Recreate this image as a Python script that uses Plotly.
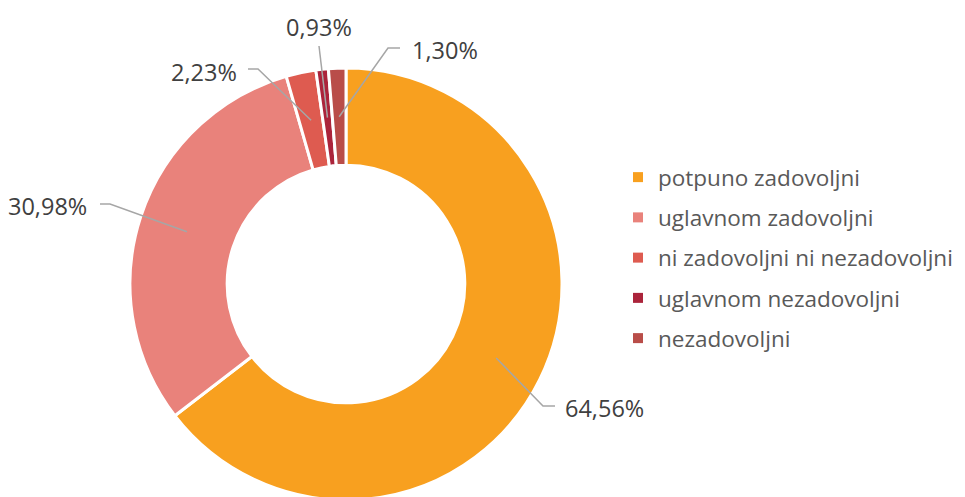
import math
import plotly.graph_objects as go

# ---- data ----
categories = ["potpuno zadovoljni", "uglavnom zadovoljni", "ni zadovoljni ni nezadovoljni",
              "uglavnom nezadovoljni", "nezadovoljni"]
values = [64.56, 30.98, 2.23, 0.93, 1.30]
colors = ["#F8A01F", "#E9827B", "#DE5B50", "#AB243B", "#B94D49"]
value_labels = [f"{v:.2f}".replace(".", ",") + "%" for v in values]

# ---- geometry / layout ----
W, H = 965, 503          # page is cut at 497 (pie slightly exceeds the bottom edge)
CX, CY, R = 346, 284, 216
HOLE = 0.55
FONT = "Open Sans, Noto Sans, sans-serif"

def px(x, y):
    return x / W, (H - y) / H

# label layout in pixel positions (elbow, end of leader, text anchor)
label_layout = [
    dict(elbow=(543, 406), end=(555, 406), text=(563, 408), anchor="left"),
    dict(elbow=(110, 204), end=(100, 204), text=(89, 206), anchor="right"),
    dict(elbow=(258, 69), end=(248, 69), text=(239, 72), anchor="right"),
    dict(elbow=None, end=(319, 46), text=(319, 27), anchor="center"),
    dict(elbow=(388, 48), end=(400, 48), text=(410, 50), anchor="left"),
]

fig = go.Figure()
fig.add_trace(go.Pie(
    labels=categories, values=values, sort=False, direction="clockwise", rotation=0,
    hole=HOLE, marker=dict(colors=colors, line=dict(color="white", width=3)),
    textinfo="none", hoverinfo="label+percent", showlegend=False,
    domain=dict(x=[(CX - R) / W, (CX + R) / W], y=[(H - CY - R) / H, (H - CY + R) / H]),
))

# legend entries
for cat, col in zip(categories, colors):
    fig.add_trace(go.Scatter(
        x=[None], y=[None], mode="markers", name=cat, legendgroup=cat,
        marker=dict(symbol="square", size=10, color=col),
    ))

shapes, annotations = [], []
total = sum(values)
cum = 0.0
r_mid = R * (1 + HOLE) / 2
for v, txt, lay in zip(values, value_labels, label_layout):
    theta = math.radians(360 * (cum + v / 2) / total)
    cum += v
    sx, sy = CX + r_mid * math.sin(theta), CY - r_mid * math.cos(theta)
    pts = [(sx, sy)]
    if lay["elbow"]:
        pts.append(lay["elbow"])
    pts.append(lay["end"])
    path = "M " + " L ".join(f"{px(a, b)[0]:.5f},{px(a, b)[1]:.5f}" for a, b in pts)
    shapes.append(dict(type="path", path=path, xref="paper", yref="paper",
                       line=dict(color="#A6A6A6", width=1.5)))
    tx, ty = px(*lay["text"])
    annotations.append(dict(x=tx, y=ty, xref="paper", yref="paper", text=txt,
                            showarrow=False, xanchor=lay["anchor"], yanchor="middle",
                            font=dict(family=FONT, size=23.5, color="#404040")))

fig.update_layout(
    width=W, height=H, margin=dict(l=0, r=0, t=0, b=0),
    paper_bgcolor="white", plot_bgcolor="white",
    xaxis=dict(visible=False), yaxis=dict(visible=False),
    shapes=shapes, annotations=annotations,
    legend=dict(x=618 / W, y=px(0, 156)[1], xanchor="left", yanchor="top",
                font=dict(family=FONT, size=22.5, color="#595959"),
                tracegroupgap=8, itemsizing="trace", bgcolor="rgba(0,0,0,0)"),
)

fig.write_html("out.html", config={"displayModeBar": False},
               post_script="document.body.style.margin='0';document.body.style.overflow='hidden';")
